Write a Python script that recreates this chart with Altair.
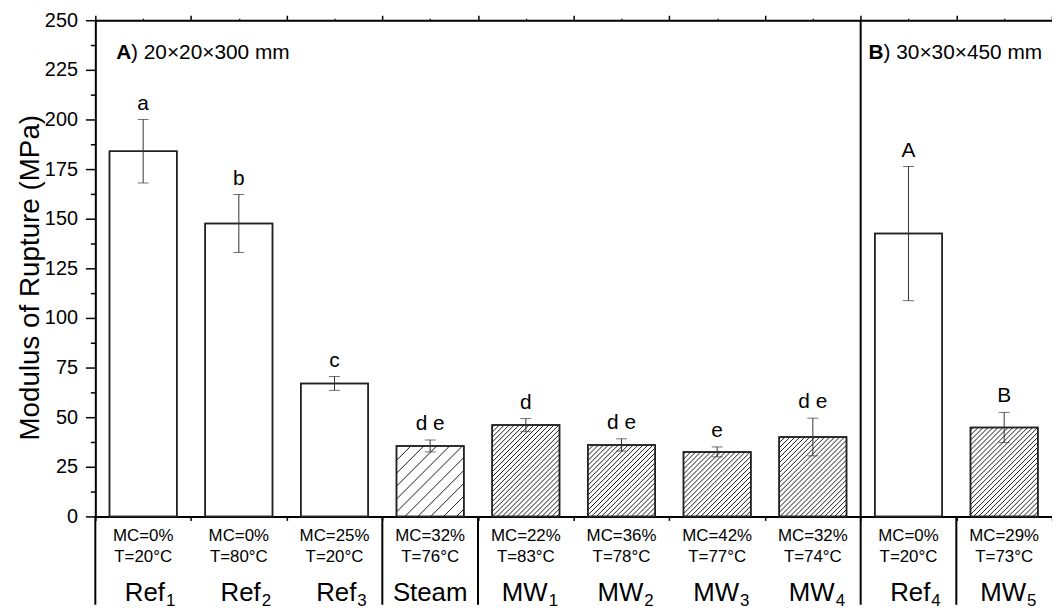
import altair as alt
import pandas as pd
import numpy as np

# ---------------- data ----------------
categories = ["Ref1", "Ref2", "Ref3", "Steam", "MW1", "MW2", "MW3", "MW4", "Ref4", "MW5"]
label_main = ["Ref", "Ref", "Ref", "Steam", "MW", "MW", "MW", "MW", "Ref", "MW"]
label_sub = ["1", "2", "3", "", "1", "2", "3", "4", "4", "5"]
moisture = ["MC=0%", "MC=0%", "MC=25%", "MC=32%", "MC=22%", "MC=36%", "MC=42%", "MC=32%", "MC=0%", "MC=29%"]
temperature = ["T=20°C", "T=80°C", "T=20°C", "T=76°C", "T=83°C", "T=78°C", "T=77°C", "T=74°C", "T=20°C", "T=73°C"]
treatment = ["Reference", "Reference", "Reference", "Steam", "Microwave", "Microwave",
             "Microwave", "Microwave", "Reference", "Microwave"]
section = ["A", "A", "A", "A", "A", "A", "A", "A", "B", "B"]
mor = [184.0, 147.6, 67.0, 35.5, 46.0, 36.0, 32.5, 40.0, 142.5, 44.8]
mor_sd = [16.0, 14.6, 3.5, 3.0, 3.3, 3.1, 2.5, 9.5, 33.8, 7.6]
letters = ["a", "b", "c", "d e", "d", "d e", "e", "d e", "A", "B"]
section_bold = ["A", "B"]
section_text = [") 20×20×300 mm", ") 30×30×450 mm"]
y_title = "Modulus of Rupture (MPa)"

# ---------------- style / layout ----------------
W, H = 964, 500
N = len(categories)
PX = W / N            # px per x unit
PY = H / 250.0        # px per y unit
HALF = 0.352          # half bar width in x units
hatch_spacing = {"Reference": 0, "Steam": 13.0, "Microwave": 5.0}
FONT = "Liberation Sans"
INK = "#000000"
SEP_END = 589         # bottom end of separator lines (px from plot top)

df = pd.DataFrame(dict(category=categories, main=label_main, sub=label_sub, mc=moisture,
                       temp=temperature, treatment=treatment, section=section,
                       mor=mor, sd=mor_sd, letter=letters))
df["idx"] = np.arange(N)

# hatch segments (clipped diagonal lines inside each hatched bar)
rows = []
for i, (v, t) in enumerate(zip(mor, treatment)):
    s = hatch_spacing[t]
    if not s:
        continue
    L = (i + 0.5 - HALF) * PX
    R = (i + 0.5 + HALF) * PX
    T = v * PY
    c = np.floor((L - T) / s) * s
    while c < R:
        lo = max(0.0, L - c)
        hi = min(T, R - c)
        if hi - lo > 0.8:
            rows.append(dict(hx=(lo + c) / PX, hy=lo / PY, hx2=(hi + c) / PX, hy2=hi / PY))
        c += s
hatch_df = pd.DataFrame(rows)

# separators where the treatment group changes, full height where section changes
sep_rows = []
for i in range(N):
    if i == 0 or treatment[i] != treatment[i - 1] or section[i] != section[i - 1]:
        full = i > 0 and section[i] != section[i - 1]
        sep_rows.append(dict(b=float(i), full=full))
sep_df = pd.DataFrame(sep_rows)

sec_rows = []
for k, sname in enumerate(section_bold):
    start = section.index(sname)
    sec_rows.append(dict(start=float(start), bold=sname, rest=section_text[k]))
sec_df = pd.DataFrame(sec_rows)

xs = alt.Scale(domain=[0, N], nice=False, zero=False, padding=0)
ys = alt.Scale(domain=[0, 250], nice=False, padding=0)

base = alt.Chart(df).transform_calculate(
    xc="datum.idx + 0.5",
    x0=f"datum.idx + 0.5 - {HALF}",
    x1=f"datum.idx + 0.5 + {HALF}",
    lo="datum.mor - datum.sd",
    hi="datum.mor + datum.sd",
)

bars = base.mark_bar(fill="white", stroke="#222222", strokeWidth=1.5).encode(
    x=alt.X("x0:Q", scale=xs, axis=alt.Axis(orient="bottom", values=list(range(N + 1)), tickSize=4,
                                             labels=False, title=None, grid=False, domainWidth=2,
                                             domainColor=INK, tickColor=INK, tickWidth=1.5)),
    x2="x1:Q",
    y=alt.Y("mor:Q", scale=ys, axis=alt.Axis(orient="left", values=list(range(0, 251, 25)), tickSize=10,
                                              tickWidth=1.5, tickColor=INK, domainWidth=2, domainColor=INK,
                                              grid=False, labelFontSize=20, labelPadding=8, labelColor=INK,
                                              labelFont=FONT,
                                              title=y_title, titleFontSize=28, titleFontWeight="normal",
                                              titleFont=FONT, titleColor=INK, titleAngle=270,
                                              titleX=-57, titleY=259, titleAlign="center",
                                              titleBaseline="alphabetic")),
    y2=alt.datum(0),
)

hatch = alt.Chart(hatch_df).mark_rule(color=INK, strokeWidth=0.9).encode(
    x=alt.X("hx:Q", scale=xs, axis=None),
    x2="hx2:Q",
    y=alt.Y("hy:Q", scale=ys, axis=None),
    y2="hy2:Q",
)

outline = base.mark_bar(fill=None, fillOpacity=0, stroke="#222222", strokeWidth=1.5).encode(
    x=alt.X("x0:Q", scale=xs, axis=alt.Axis(orient="top", values=list(range(N + 1)), tickSize=5,
                                             labels=False, title=None, grid=False, domainWidth=2,
                                             domainColor=INK, tickColor=INK, tickWidth=1.5)),
    x2="x1:Q",
    y=alt.Y("mor:Q", scale=ys, axis=alt.Axis(orient="left",
                                              values=[12.5 + 25 * k for k in range(10)],
                                              tickSize=5, tickWidth=1.5, tickColor=INK, domain=False,
                                              labels=False, grid=False, title=None)),
    y2=alt.datum(0),
)

err_rule = base.mark_rule(color="#333333", strokeWidth=1).encode(
    x=alt.X("xc:Q", scale=xs, axis=alt.Axis(orient="top", values=[k + 0.5 for k in range(N)], tickSize=2,
                                             labels=False, title=None, grid=False, domain=False,
                                             tickColor=INK, tickWidth=1.2)),
    y=alt.Y("lo:Q", scale=ys, axis=None),
    y2="hi:Q",
)

err_lo = base.mark_tick(color="#333333", orient="horizontal", size=11, thickness=1).encode(
    x=alt.X("xc:Q", scale=xs, axis=None),
    y=alt.Y("lo:Q", scale=ys, axis=None),
)
err_hi = base.mark_tick(color="#333333", orient="horizontal", size=11, thickness=1).encode(
    x=alt.X("xc:Q", scale=xs, axis=None),
    y=alt.Y("hi:Q", scale=ys, axis=None),
)

letter_text = base.mark_text(fontSize=21, font=FONT, baseline="alphabetic", dy=-10, color=INK).encode(
    x=alt.X("xc:Q", scale=xs, axis=None),
    y=alt.Y("hi:Q", scale=ys, axis=None),
    text="letter:N",
)

seps_full = alt.Chart(sep_df).transform_filter("datum.full").mark_rule(color=INK, strokeWidth=2).encode(
    x=alt.X("b:Q", scale=xs, axis=None),
    y=alt.value(0),
    y2=alt.value(SEP_END),
)
seps_low = alt.Chart(sep_df).transform_filter("!datum.full").mark_rule(color=INK, strokeWidth=2).encode(
    x=alt.X("b:Q", scale=xs, axis=None),
    y=alt.value(500),
    y2=alt.value(SEP_END),
)

mc_text = base.mark_text(fontSize=17, font=FONT, baseline="alphabetic", color=INK).encode(
    x=alt.X("xc:Q", scale=xs, axis=None), y=alt.value(525), text="mc:N")
t_text = base.mark_text(fontSize=17, font=FONT, baseline="alphabetic", color=INK).encode(
    x=alt.X("xc:Q", scale=xs, axis=None), y=alt.value(546), text="temp:N")

main_sub = base.transform_filter("datum.sub != ''").mark_text(
    fontSize=26, font=FONT, baseline="alphabetic", align="right", dx=22, color=INK).encode(
    x=alt.X("xc:Q", scale=xs, axis=None), y=alt.value(585), text="main:N")
sub_text = base.transform_filter("datum.sub != ''").mark_text(
    fontSize=17, font=FONT, baseline="alphabetic", align="left", dx=23, color=INK).encode(
    x=alt.X("xc:Q", scale=xs, axis=None), y=alt.value(590), text="sub:N")
main_plain = base.transform_filter("datum.sub == ''").mark_text(
    fontSize=26, font=FONT, baseline="alphabetic", align="center", color=INK).encode(
    x=alt.X("xc:Q", scale=xs, axis=None), y=alt.value(585), text="main:N")

sec_layers = []
sec_dx = {"A": 21, "B": 8}
for sname, dx in sec_dx.items():
    sdat = alt.Chart(sec_df).transform_filter(f"datum.bold == '{sname}'")
    sec_layers.append(sdat.mark_text(fontSize=21, font=FONT, fontWeight="bold", align="left",
                                     baseline="alphabetic", dx=dx, color=INK).encode(
        x=alt.X("start:Q", scale=xs, axis=None), y=alt.value(39), text="bold:N"))
    sec_layers.append(sdat.mark_text(fontSize=21, font=FONT, align="left",
                                     baseline="alphabetic", dx=dx + 15, color=INK).encode(
        x=alt.X("start:Q", scale=xs, axis=None), y=alt.value(39), text="rest:N"))

chart = alt.layer(
    bars, hatch, outline, err_rule, err_lo, err_hi, letter_text,
    seps_full, seps_low, mc_text, t_text, main_sub, sub_text, main_plain, *sec_layers
).resolve_axis(x="independent", y="independent").properties(
    width=W, height=H,
    padding={"left": 88, "top": 10, "right": 0, "bottom": 94},
    autosize=alt.AutoSizeParams(type="none"),
).configure_view(stroke=None).configure(font=FONT)

chart.save("out.html", embed_options={"renderer": "svg", "actions": False})
